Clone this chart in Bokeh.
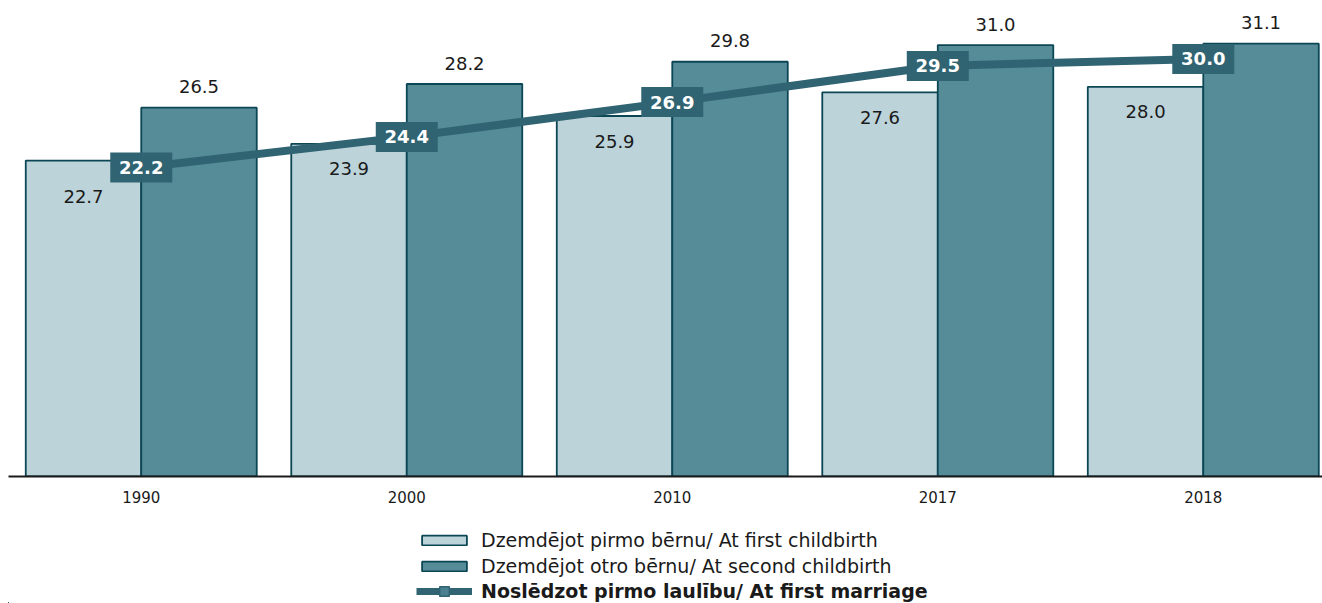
import numpy as np
from bokeh.plotting import figure
from bokeh.layouts import column
from bokeh.models import (Range1d, FixedTicker, Legend, LegendItem, ColumnDataSource)
from bokeh.core.properties import value
from bokeh.embed import file_html
from bokeh.resources import INLINE

years = ["1990", "2000", "2010", "2017", "2018"]
first_child = [22.7, 23.9, 25.9, 27.6, 28.0]
second_child = [26.5, 28.2, 29.8, 31.0, 31.1]
first_marriage = [22.2, 24.4, 26.9, 29.5, 30.0]

labels_leg = ["Dzemdējot pirmo bērnu/ At first childbirth",
              "Dzemdējot otro bērnu/ At second childbirth",
              "Noslēdzot pirmo laulību/ At first marriage"]

FONT = "DejaVu Sans"
LIGHT = "#bcd3d9"
DARK = "#568b98"
EDGE = "#0b4655"
LINE = "#306472"
MARK = "#4a8090"

xs = np.arange(len(years)) + 0.5
bw = 0.435
off = 0.2175

src = ColumnDataSource(dict(
    x1=xs - off, x2=xs + off, xc=xs,
    a=first_child, b=second_child, m=first_marriage,
    at=[f"{v:.1f}" for v in first_child],
    bt=[f"{v:.1f}" for v in second_child],
    mt=[f"{v:.1f}" for v in first_marriage],
    ady=[36 if m < a else 25 for a, m in zip(first_child, first_marriage)],
))

p = figure(width=1322, height=523, output_backend="svg", toolbar_location=None,
           x_range=Range1d(0, 4.949), y_range=Range1d(0, 34.2),
           min_border_left=8, min_border_right=0, min_border_top=0, min_border_bottom=47)
p.outline_line_color = None
p.xgrid.visible = False
p.ygrid.visible = False
p.yaxis.visible = False

p.vbar(x="x1", top="a", width=bw, bottom=0, source=src,
       fill_color=LIGHT, line_color=EDGE, line_width=1.8)
p.vbar(x="x2", top="b", width=bw, bottom=0, source=src,
       fill_color=DARK, line_color=EDGE, line_width=1.8)

p.text(x="x1", y="a", text="at", source=src, y_offset="ady",
       text_align="center", text_baseline="middle", text_font=value(FONT),
       text_font_size="18px", text_color="#1a1a1a")
p.text(x="x2", y="b", text="bt", source=src, y_offset=-21,
       text_align="center", text_baseline="middle", text_font=value(FONT),
       text_font_size="18px", text_color="#1a1a1a")

p.line(x="xc", y="m", source=src, line_color=LINE, line_width=8)
p.rect(x="xc", y="m", width=62, height=30, width_units="screen", height_units="screen",
       source=src, fill_color=LINE, line_color=None)
p.text(x="xc", y="m", text="mt", source=src, text_align="center", text_baseline="middle",
       text_font=value(FONT), text_font_size="18px", text_font_style="bold",
       text_color="white")

ax = p.xaxis[0]
ax.ticker = FixedTicker(ticks=list(xs))
ax.major_label_overrides = {float(x): y for x, y in zip(xs, years)}
ax.major_tick_line_color = None
ax.minor_tick_line_color = None
ax.axis_line_color = "#1a1a1a"
ax.axis_line_width = 2
ax.major_label_text_font = FONT
ax.major_label_text_font_size = "15px"
ax.major_label_text_color = "#1a1a1a"
ax.major_label_standoff = 8

# legend strip below the chart: same series drawn with a view range that hides them,
# so only their legend glyphs show
lg = figure(width=1322, height=80, output_backend="svg", toolbar_location=None,
            x_range=Range1d(100, 101), y_range=Range1d(100, 101),
            min_border_left=0, min_border_right=0, min_border_top=0, min_border_bottom=0)
lg.outline_line_color = None
lg.axis.visible = False
lg.grid.visible = False
g1 = lg.vbar(x="x1", top="a", width=bw, bottom=0, source=src,
             fill_color=LIGHT, line_color=EDGE, line_width=1.8)
g2 = lg.vbar(x="x2", top="b", width=bw, bottom=0, source=src,
             fill_color=DARK, line_color=EDGE, line_width=1.8)
g3 = lg.line(x="xc", y="m", source=src, line_color=LINE, line_width=7)
g4 = lg.scatter(x="xc", y="m", source=src, marker="square", size=10,
                fill_color=MARK, line_color=LINE, line_width=1.5)

common = dict(orientation="vertical",
              label_text_font=FONT, label_text_font_size="19px", label_text_color="#1a1a1a",
              glyph_width=56, label_height=20, spacing=4,
              label_standoff=9, padding=0, margin=0, border_line_color=None,
              background_fill_alpha=0)
leg1 = Legend(items=[LegendItem(label=labels_leg[0], renderers=[g1]),
                     LegendItem(label=labels_leg[1], renderers=[g2])],
              location=(408, 26), glyph_height=12, **common)
leg2 = Legend(items=[LegendItem(label=labels_leg[2], renderers=[g3, g4])],
              location=(408, 0), glyph_height=24, label_text_font_style="bold", **common)
lg.add_layout(leg1, "center")
lg.add_layout(leg2, "center")

layout = column(p, lg, spacing=0)
open("out.html", "w").write(file_html(layout, INLINE))
